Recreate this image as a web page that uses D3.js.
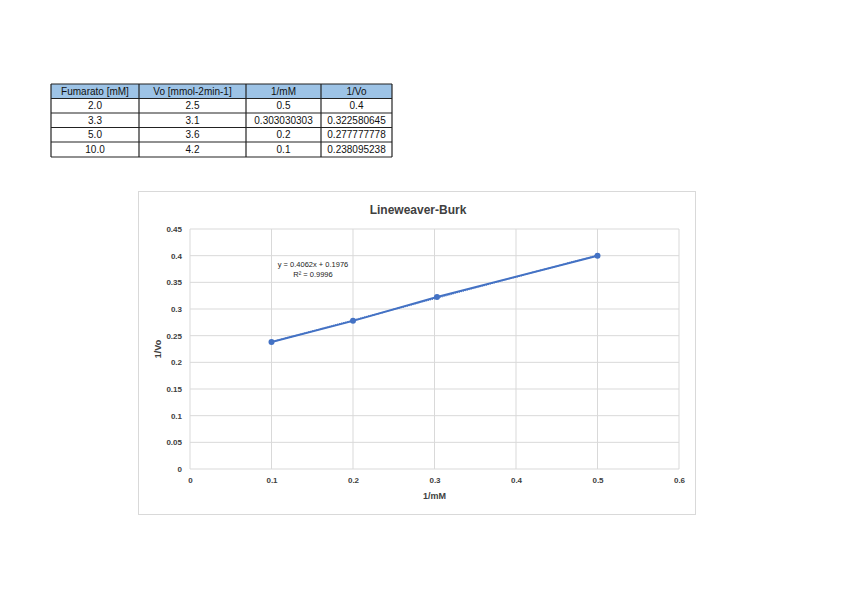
<!DOCTYPE html>
<html>
<head>
<meta charset="utf-8">
<script src="https://cdn.jsdelivr.net/npm/d3@7"></script>
<style>
  body { margin: 0; background: #fff; }
  svg text { font-family: "Liberation Sans Narrow", "Liberation Sans", Arial, sans-serif; }
</style>
</head>
<body>
<svg id="vis" width="848" height="599"></svg>
<script>
// table data
var headers = ["Fumarato [mM]", "Vo [mmol-2min-1]", "1/mM", "1/Vo"];
var fumarato = ["2.0", "3.3", "5.0", "10.0"];
var vo = ["2.5", "3.1", "3.6", "4.2"];
var invS = [0.5, 0.303030303, 0.2, 0.1];
var invV = [0.4, 0.322580645, 0.277777778, 0.238095238];

// chart
var chartTitle = "Lineweaver-Burk";
var xTicks = [0, 0.1, 0.2, 0.3, 0.4, 0.5, 0.6];
var yTicks = [0, 0.05, 0.1, 0.15, 0.2, 0.25, 0.3, 0.35, 0.4, 0.45];
var slope = 0.4062, intercept = 0.1976, r2 = 0.9996;

var svg = d3.select("#vis");

// ---- table ----
var colX = [51, 139, 246, 321, 392];
var rowY = [84, 98.5, 113, 127.5, 142, 157];
var tbl = svg.append("g");

tbl.append("rect")
    .attr("x", colX[0]).attr("y", rowY[0])
    .attr("width", colX[4] - colX[0]).attr("height", rowY[1] - rowY[0])
    .attr("fill", "#9dc3e6");

var rows = [headers].concat(fumarato.map(function(f, i) {
  return [f, vo[i], String(invS[i]), String(invV[i])];
}));

rows.forEach(function(r, ri) {
  r.forEach(function(t, ci) {
    tbl.append("text")
        .attr("x", (colX[ci] + colX[ci + 1]) / 2)
        .attr("y", (rowY[ri] + rowY[ri + 1]) / 2 + 3.5)
        .attr("text-anchor", "middle")
        .attr("font-size", 10)
        .attr("fill", "#111")
        .text(t);
  });
});

rowY.forEach(function(y) {
  tbl.append("line").attr("x1", colX[0]).attr("x2", colX[4])
      .attr("y1", y).attr("y2", y).attr("stroke", "#222").attr("stroke-width", 1.2);
});
colX.forEach(function(x) {
  tbl.append("line").attr("x1", x).attr("x2", x)
      .attr("y1", rowY[0]).attr("y2", rowY[5]).attr("stroke", "#222").attr("stroke-width", 1.2);
});

// ---- chart frame ----
svg.append("rect")
    .attr("x", 138.5).attr("y", 191.5)
    .attr("width", 557).attr("height", 323)
    .attr("fill", "#fff").attr("stroke", "#d9d9d9");

var x = d3.scaleLinear().domain([0, 0.6]).range([190, 679]);
var y = d3.scaleLinear().domain([0, 0.45]).range([469, 229]);

svg.append("text")
    .attr("x", 418).attr("y", 214)
    .attr("text-anchor", "middle")
    .attr("font-size", 12)
    .attr("font-weight", "bold")
    .attr("fill", "#404040")
    .text(chartTitle);

// gridlines
svg.append("g").selectAll("line").data(yTicks).enter().append("line")
    .attr("x1", x(0)).attr("x2", x(0.6))
    .attr("y1", function(d) { return y(d); }).attr("y2", function(d) { return y(d); })
    .attr("stroke", "#d9d9d9");
svg.append("g").selectAll("line").data(xTicks).enter().append("line")
    .attr("x1", function(d) { return x(d); }).attr("x2", function(d) { return x(d); })
    .attr("y1", y(0)).attr("y2", y(0.45))
    .attr("stroke", "#d9d9d9");

// axes (labels only)
svg.append("g")
    .attr("transform", "translate(" + x(0) + ",0)")
    .call(d3.axisLeft(y).tickValues(yTicks).tickSize(0).tickPadding(8)
      .tickFormat(function(d) { return String(+d.toFixed(2)); }));
svg.append("g")
    .attr("transform", "translate(0," + y(0) + ")")
    .call(d3.axisBottom(x).tickValues(xTicks).tickSize(0).tickPadding(8)
      .tickFormat(function(d) { return String(+d.toFixed(1)); }));
svg.selectAll(".domain").remove();
svg.selectAll(".tick text")
    .attr("font-family", "'Liberation Sans Narrow', 'Liberation Sans', Arial, sans-serif")
    .attr("font-size", 8)
    .attr("font-weight", "bold")
    .attr("fill", "#404040");

svg.append("text")
    .attr("x", x(0.3)).attr("y", 499)
    .attr("text-anchor", "middle")
    .attr("font-size", 9).attr("font-weight", "bold").attr("fill", "#404040")
    .text("1/mM");
svg.append("text")
    .attr("transform", "translate(161," + y(0.225) + ") rotate(-90)")
    .attr("text-anchor", "middle")
    .attr("font-size", 9).attr("font-weight", "bold").attr("fill", "#404040")
    .text("1/Vo");

// data series
var pts = invS.map(function(s, i) { return [s, invV[i]]; })
    .sort(function(a, b) { return a[0] - b[0]; });

var line = d3.line()
    .x(function(d) { return x(d[0]); })
    .y(function(d) { return y(d[1]); });

svg.append("path")
    .datum(pts)
    .attr("d", line)
    .attr("fill", "none")
    .attr("stroke", "#4472c4")
    .attr("stroke-width", 2);

// linear trendline
var ext = d3.extent(invS);
svg.append("path")
    .datum(ext.map(function(s) { return [s, slope * s + intercept]; }))
    .attr("d", line)
    .attr("fill", "none")
    .attr("stroke", "#4472c4")
    .attr("stroke-width", 1.5)
    .attr("stroke-dasharray", "1,1");

svg.append("g").selectAll("circle").data(pts).enter().append("circle")
    .attr("cx", function(d) { return x(d[0]); })
    .attr("cy", function(d) { return y(d[1]); })
    .attr("r", 3)
    .attr("fill", "#4472c4");

// equation label
var eq = svg.append("text")
    .attr("x", 313).attr("y", 267)
    .attr("text-anchor", "middle")
    .attr("font-size", 7.5).attr("fill", "#222");
eq.append("tspan").text("y = " + slope + "x + " + intercept);
eq.append("tspan").attr("x", 313).attr("dy", 10).text("R\u00b2 = " + r2);
</script>
</body>
</html>
